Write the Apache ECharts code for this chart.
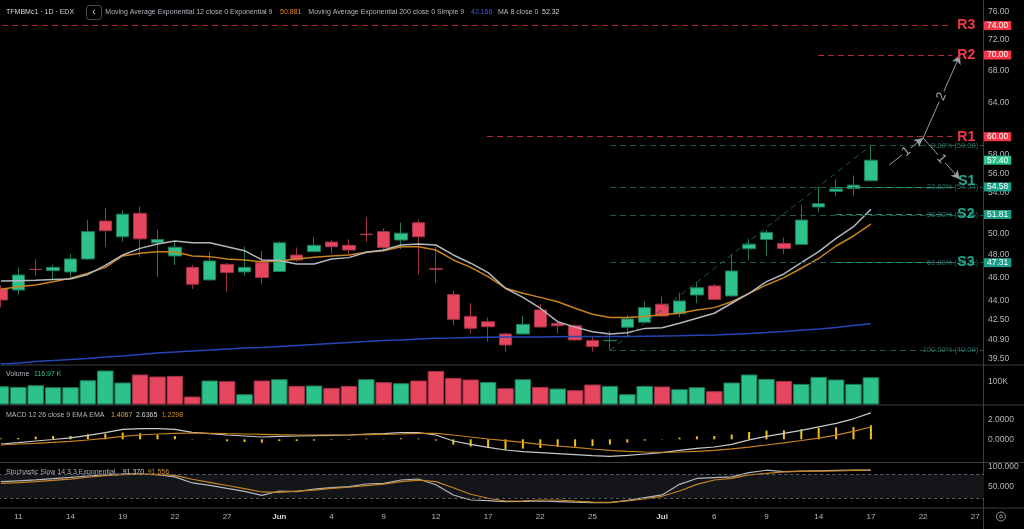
<!DOCTYPE html>
<html>
<head>
<meta charset="utf-8">
<title>TFMBMc1 · 1D · EDX</title>
<script src="https://cdn.jsdelivr.net/npm/echarts@6/dist/echarts.min.js"></script>
<style>
  html, body { margin: 0; padding: 0; background: #000; }
  #chart { width: 1024px; height: 529px; }
</style>
</head>
<body>
<div id="chart"></div>
<script>
// trading days, one per bar (last 6 are empty future slots)
const dates = [
  '2020-05-08',
  '2020-05-11', '2020-05-12', '2020-05-13', '2020-05-14', '2020-05-15',
  '2020-05-18', '2020-05-19', '2020-05-20', '2020-05-21', '2020-05-22',
  '2020-05-25', '2020-05-26', '2020-05-27', '2020-05-28', '2020-05-29',
  '2020-06-01', '2020-06-02', '2020-06-03', '2020-06-04', '2020-06-05',
  '2020-06-08', '2020-06-09', '2020-06-10', '2020-06-11', '2020-06-12',
  '2020-06-15', '2020-06-16', '2020-06-17', '2020-06-18', '2020-06-19',
  '2020-06-22', '2020-06-23', '2020-06-24', '2020-06-25', '2020-06-26',
  '2020-06-29', '2020-06-30', '2020-07-01', '2020-07-02', '2020-07-03',
  '2020-07-06', '2020-07-07', '2020-07-08', '2020-07-09', '2020-07-10',
  '2020-07-13', '2020-07-14', '2020-07-15', '2020-07-16', '2020-07-17',
  '2020-07-20', '2020-07-21', '2020-07-22', '2020-07-23', '2020-07-24',
  '2020-07-27'
];
const tickDates = [
  '2020-05-11', '2020-05-14', '2020-05-19', '2020-05-22', '2020-05-27', '2020-06-01',
  '2020-06-04', '2020-06-09', '2020-06-12', '2020-06-17', '2020-06-22', '2020-06-25',
  '2020-07-01', '2020-07-06', '2020-07-09', '2020-07-14', '2020-07-17', '2020-07-22', '2020-07-27'
];
const monthNames = ['Jan', 'Feb', 'Mar', 'Apr', 'May', 'Jun', 'Jul', 'Aug', 'Sep', 'Oct', 'Nov', 'Dec'];

const opens = [45.03, 44.93, 46.72, 46.60, 46.49, 47.64, 51.17, 49.68, 51.92, 49.11,
  47.91, 46.89, 45.79, 47.16, 46.49, 47.31, 46.52, 47.99, 48.30, 49.18,
  48.88, 49.93, 50.16, 49.37, 51.01, 46.78, 44.54, 42.75, 42.32, 41.35,
  41.35, 43.27, 42.19, 42.00, 40.84, 40.83, 41.88, 42.28, 43.74, 42.97,
  44.51, 45.27, 44.43, 48.57, 49.43, 49.06, 48.97, 52.55, 54.12, 54.40, 55.22];
const closes = [44.09, 46.22, 46.70, 46.89, 47.64, 50.16, 50.25, 51.84, 49.48, 49.42,
  48.71, 45.42, 47.46, 46.43, 46.89, 46.00, 49.11, 47.55, 48.88, 48.75,
  48.45, 49.87, 48.69, 50.01, 49.68, 46.72, 42.51, 41.80, 41.92, 40.50,
  42.11, 41.90, 42.00, 40.89, 40.38, 40.86, 42.54, 43.46, 42.78, 44.01,
  45.12, 44.14, 46.57, 48.99, 50.09, 48.60, 51.27, 52.88, 54.36, 54.76, 57.40];
const lows = [43.48, 44.51, 46.14, 45.79, 46.03, 47.55, 48.75, 49.21, 47.84, 46.07,
  47.10, 45.02, 45.75, 44.78, 46.14, 45.42, 46.49, 47.40, 48.27, 48.09,
  48.09, 49.21, 48.45, 48.54, 46.28, 45.51, 42.06, 41.40, 40.76, 39.99,
  41.27, 41.86, 41.40, 40.81, 39.99, 40.09, 41.14, 42.26, 42.72, 42.67,
  43.82, 44.09, 44.38, 47.55, 47.91, 48.09, 48.96, 52.02, 53.65, 53.68, 55.13];
const highs = [45.31, 46.89, 47.61, 47.14, 48.09, 51.27, 52.48, 52.18, 52.58, 50.32,
  49.21, 47.10, 48.30, 47.28, 48.75, 48.36, 49.26, 48.68, 49.67, 49.37,
  49.43, 51.53, 50.48, 51.01, 51.34, 48.75, 44.85, 43.82, 42.64, 41.45,
  42.78, 43.74, 42.32, 42.13, 41.14, 41.59, 42.86, 43.95, 44.38, 44.71,
  45.62, 45.44, 48.09, 49.51, 50.32, 49.60, 52.75, 54.60, 55.37, 55.77, 59.00];
// volume in thousands
const volumes = [78.5, 75.5, 82.8, 74.2, 74.2, 104.3, 145.9, 94.4, 128.8, 120.2,
  122.7, 34.3, 103, 100, 44.2, 103, 108.6, 79.8, 81.5, 71.2,
  79.8, 108.6, 95.7, 91.4, 103, 144.2, 114.2, 107.3, 97, 70,
  108.6, 75.5, 68.7, 61.4, 85.8, 79.8, 44.2, 79.8, 77.3, 65.7,
  74.2, 57.1, 94.4, 128.8, 109.9, 101.3, 88.4, 118.5, 107.3, 88.4, 116.97];

const ma8 = [45.70, 45.73, 45.76, 45.82, 45.88, 46.27, 47.06, 48.00, 48.60, 49.00,
  49.28, 49.12, 49.12, 48.75, 48.39, 47.55, 47.51, 47.19, 47.19, 47.64,
  47.76, 48.24, 48.45, 48.91, 49.00, 48.91, 48.00, 47.26, 46.43, 45.08,
  44.31, 43.41, 42.32, 41.89, 41.53, 41.35, 41.45, 41.79, 41.84, 42.20,
  42.60, 43.00, 43.82, 44.65, 45.64, 46.31, 47.31, 48.30, 49.53, 50.63, 52.32];
const ema12 = [44.99, 45.21, 45.36, 45.64, 45.94, 46.37, 46.89, 47.91, 48.15, 48.30,
  48.30, 47.91, 47.85, 47.64, 47.55, 47.40, 47.46, 47.64, 47.79, 47.91,
  48.00, 48.24, 48.39, 48.75, 48.75, 48.45, 47.55, 46.89, 46.08, 45.08,
  44.65, 44.31, 43.95, 43.41, 42.92, 42.65, 42.65, 42.73, 42.87, 43.00,
  43.27, 43.46, 43.95, 44.65, 45.36, 45.99, 46.81, 47.70, 48.82, 49.75, 50.881];
const ema200 = [39.07, 39.15, 39.26, 39.33, 39.41, 39.48, 39.60, 39.67, 39.78, 39.90,
  39.97, 40.05, 40.12, 40.20, 40.27, 40.31, 40.39, 40.47, 40.54, 40.62,
  40.70, 40.77, 40.85, 40.89, 40.97, 41.01, 41.04, 41.08, 41.10, 41.12,
  41.12, 41.12, 41.14, 41.15, 41.15, 41.15, 41.16, 41.18, 41.20, 41.22,
  41.25, 41.28, 41.33, 41.39, 41.47, 41.54, 41.64, 41.74, 41.86, 42.02, 42.166];

const macdLine = [-0.47, -0.34, -0.17, -0.02, 0.14, 0.40, 0.66, 1.00, 1.06, 1.06,
  1.00, 0.70, 0.56, 0.43, 0.33, 0.23, 0.30, 0.33, 0.36, 0.40,
  0.43, 0.53, 0.56, 0.66, 0.66, 0.43, -0.17, -0.50, -0.80, -1.07,
  -1.24, -1.34, -1.44, -1.54, -1.64, -1.70, -1.60, -1.47, -1.34, -1.10,
  -0.90, -0.77, -0.50, -0.05, 0.30, 0.60, 0.90, 1.25, 1.60, 2.05, 2.6365];
const macdSignal = [-0.57, -0.47, -0.40, -0.30, -0.20, -0.07, 0.10, 0.30, 0.43, 0.53,
  0.60, 0.63, 0.60, 0.56, 0.53, 0.50, 0.46, 0.43, 0.43, 0.43,
  0.43, 0.46, 0.50, 0.53, 0.60, 0.60, 0.43, 0.23, 0.03, -0.14,
  -0.30, -0.50, -0.67, -0.80, -0.97, -1.10, -1.20, -1.27, -1.30, -1.27,
  -1.20, -1.10, -0.95, -0.78, -0.57, -0.35, -0.12, 0.12, 0.42, 0.80, 1.2298];
const macdHist = [0.08, 0.13, 0.27, 0.33, 0.33, 0.50, 0.57, 0.67, 0.60, 0.47,
  0.33, 0.04, -0.03, -0.20, -0.27, -0.33, -0.17, -0.17, -0.13, -0.05,
  -0.05, 0.07, 0.04, 0.10, 0.07, -0.13, -0.53, -0.73, -0.87, -1.05,
  -0.93, -0.87, -0.77, -0.73, -0.67, -0.53, -0.33, -0.13, -0.03, 0.17,
  0.30, 0.33, 0.47, 0.73, 0.87, 0.90, 1.00, 1.13, 1.20, 1.23, 1.4067];

const stochK = [61.7, 64, 66.3, 69.5, 72.7, 76.2, 79.3, 81, 81, 79.5,
  74, 58.5, 52.5, 44.5, 37, 27, 38, 36.2, 43, 46.4,
  49, 55.9, 57.6, 66, 68.6, 54, 27.8, 15, 13.3, 10.7,
  11.5, 12.5, 11, 9.5, 8.5, 8.2, 14, 21, 28, 55,
  70, 72, 74, 85, 91, 87.5, 88.5, 89.5, 90.5, 91, 91.370];
const stochD = [57.6, 59.5, 62, 65, 68.5, 73, 77, 80, 81, 80,
  78, 68, 60, 52, 44, 35.5, 34.7, 37.5, 40, 44.5,
  47.5, 51.5, 55.5, 61.7, 65.5, 62, 46.4, 29.6, 19.4, 12.5,
  13, 15, 15, 12, 9.5, 8.9, 12.5, 18, 24.5, 38,
  55, 66, 70, 79, 83, 87, 88, 88.5, 89, 90.5, 91.556];

const priceTicks = [76, 72, 68, 64, 58, 56, 54, 50, 48, 46, 44, 42.5, 40.9, 39.5];
const levelNames = ['R3', 'R2', 'R1', 'S1', 'S2', 'S3'];
const levelValues = [74, 70, 60, 54.58, 51.81, 47.31];
const levelStart = [-0.5, 46.96, 27.94, 48, 48, 48];   // bar index where each level line starts
const levelEnd = 54.68;
const fibRatios = [0, 0.236, 0.382, 0.618, 1];
const fibLow = { idx: 35, price: 40.09 };
const fibHigh = { idx: 50, price: 59.00 };
const arrows = [
  { from: [51.06, 56.88], to: [53.0, 59.85], text: '1' },
  { from: [53.0, 59.85], to: [55.12, 70.0], text: '2' },
  { from: [53.0, 59.85], to: [55.12, 55.36], text: '1' }
];

const L = Math.log;
const UP = '#2ec28b', DOWN = '#e6475f';
const UP_EDGE = '#1d7a58', DOWN_EDGE = '#a03246';
const GRAY_TXT = '#b2b5be';
const FONT = '"Liberation Sans", Arial, sans-serif';
const LEFT = -7.8, RIGHT = 40;
const last = closes.length - 1;

const candles = opens.map((o, i) => [L(o), L(closes[i]), L(lows[i]), L(highs[i])]);
const volData = volumes.map((v, i) => {
  const up = i === 0 || closes[i] >= closes[i - 1];
  return { value: v, itemStyle: { color: up ? UP : DOWN, borderColor: up ? UP_EDGE : DOWN_EDGE } };
});

// annotation drawings (fib, support / resistance, arrows)
const marks = [];
fibRatios.forEach(r => {
  const lvl = fibHigh.price - r * (fibHigh.price - fibLow.price);
  marks.push([
    { coord: [fibLow.idx, L(lvl)], symbol: 'none',
      lineStyle: { color: '#1c5a4d', type: [6, 4], width: 1 },
      label: { show: true, position: 'insideEnd', distance: 5, color: '#2b6d60', fontSize: 7.5,
               formatter: (r * 100).toFixed(2) + '% (' + lvl.toFixed(2) + ')' } },
    { coord: [56.45, L(lvl)], symbol: 'none' }
  ]);
});
levelNames.forEach((name, i) => {
  const isR = name[0] === 'R';
  // S1 tag sits a little above its line
  const label = name === 'S1'
    ? { position: 'insideEndTop', distance: [-23, -1] }
    : { position: 'end', distance: 5 };
  marks.push([
    { coord: [levelStart[i], L(levelValues[i])], symbol: 'none',
      lineStyle: { color: isR ? '#b3293b' : '#1f9a83', type: [6, 4], width: 1 },
      label: Object.assign({ show: true, formatter: name,
               color: isR ? '#f23645' : '#22a88f', fontSize: 14, fontWeight: 'bold' }, label) },
    { coord: [levelEnd, L(levelValues[i])], symbol: 'none' }
  ]);
});
arrows.forEach(a => {
  marks.push([
    { coord: [a.from[0], L(a.from[1])], symbol: 'none',
      lineStyle: { color: '#9a9da6', width: 1, type: 'solid' },
      label: { show: true, position: 'insideMiddle', formatter: a.text, color: '#a5a8b0',
               fontSize: 13, backgroundColor: '#000', padding: [0, 2] } },
    { coord: [a.to[0], L(a.to[1])], symbol: 'arrow', symbolSize: [7, 9] }
  ]);
});

// price tags on the right scale
const tagValues = levelValues.concat([closes[last]]);
const tagKinds = levelNames.map(n => n[0] === 'R' ? 'r' : 's').concat(['u']);
const tagStyle = bg => ({ backgroundColor: bg, color: '#fff', fontSize: 8.5, lineHeight: 10, padding: [0, 3, 0, 3] });

function makeGrid(top, height) {
  return { left: LEFT, right: RIGHT, top: top, height: height, containLabel: false, outerBoundsMode: 'none' };
}
function catAxis(gridIndex, showLabels) {
  return {
    type: 'category', gridIndex: gridIndex, data: dates,
    axisLine: { show: false, onZero: false }, axisTick: { show: false }, splitLine: { show: false },
    axisLabel: showLabels ? {
      show: true, margin: 5, fontSize: 8, color: GRAY_TXT,
      interval: (idx, v) => tickDates.includes(v),
      formatter: v => {
        const p = v.split('-');
        return p[2] === '01' ? '{m|' + monthNames[+p[1] - 1] + '}' : String(+p[2]);
      },
      rich: { m: { fontWeight: 'bold', fontSize: 8, color: '#d1d4dc' } }
    } : { show: false }
  };
}
function valAxis(gridIndex, min, max, ticks, fmt) {
  return {
    type: 'value', gridIndex: gridIndex, position: 'right', min: min, max: max,
    axisLine: { show: false, onZero: false }, axisTick: { show: false }, splitLine: { show: false },
    axisLabel: { show: true, customValues: ticks, formatter: fmt, margin: 4, fontSize: 8.5, color: GRAY_TXT }
  };
}

function legendText(x, y, text, color) {
  return { type: 'text', x: x, y: y, silent: true,
           style: { text: text, fill: color, font: '7px ' + FONT, verticalAlign: 'middle' } };
}
function sepLine(x1, y1, x2, y2) {
  return { type: 'line', silent: true, shape: { x1: x1, y1: y1, x2: x2, y2: y2 },
           style: { stroke: '#3b3e47', lineWidth: 1 } };
}

const option = {
  animation: false,
  backgroundColor: '#000',
  textStyle: { fontFamily: FONT },
  grid: [makeGrid(0, 365), makeGrid(365, 39.5), makeGrid(405, 57.5), makeGrid(462.5, 45.5)],
  xAxis: [
    catAxis(0, false), catAxis(1, false), catAxis(2, false), catAxis(3, true),
    { type: 'value', gridIndex: 0, position: 'top', min: -0.5, max: 56.5, show: false,
      axisLine: { onZero: false } }
  ],
  yAxis: [
    valAxis(0, L(39.0), L(77.66), priceTicks.map(L), v => Math.exp(v).toFixed(2)),
    {
      type: 'value', gridIndex: 0, position: 'right', min: L(39.0), max: L(77.66),
      axisLine: { show: false, onZero: false }, axisTick: { show: false }, splitLine: { show: false },
      axisLabel: {
        show: true, margin: 0, customValues: tagValues.map(L),
        formatter: v => {
          const i = tagValues.findIndex(t => Math.abs(L(t) - v) < 1e-6);
          return '{' + tagKinds[i] + '|' + tagValues[i].toFixed(2) + '}';
        },
        rich: { r: tagStyle('#f23645'), s: tagStyle('#1e9e88'), u: tagStyle(UP) }
      }
    },
    valAxis(1, 0, 169.5, [100], () => '100K'),
    valAxis(2, -2.32, 3.43, [2, 0], v => v.toFixed(4)),
    valAxis(3, -5.4, 110.7, [100, 50], v => v.toFixed(3))
  ],
  series: [
    {
      type: 'candlestick', xAxisIndex: 0, yAxisIndex: 0, barWidth: 13, data: candles,
      itemStyle: { color: UP, color0: DOWN, borderColor: UP_EDGE, borderColor0: DOWN_EDGE, borderWidth: 1 }
    },
    { type: 'line', xAxisIndex: 0, yAxisIndex: 0, data: ema200.map(L), symbol: 'none',
      lineStyle: { color: '#2445b5', width: 1.5 } },
    { type: 'line', xAxisIndex: 0, yAxisIndex: 0, data: ema12.map(L), symbol: 'none',
      lineStyle: { color: '#c8821f', width: 1.5 } },
    { type: 'line', xAxisIndex: 0, yAxisIndex: 0, data: ma8.map(L), symbol: 'none',
      lineStyle: { color: '#b4b6bd', width: 1.5 } },
    {
      type: 'line', xAxisIndex: 4, yAxisIndex: 0, symbol: 'none', silent: true,
      data: [[fibLow.idx, L(fibLow.price)], [fibHigh.idx, L(fibHigh.price)]],
      lineStyle: { color: '#1c5a4d', type: [6, 4], width: 1 },
      markLine: { silent: true, animation: false, symbol: ['none', 'none'], data: marks }
    },
    { type: 'bar', xAxisIndex: 1, yAxisIndex: 2, barWidth: '95%', data: volData,
      itemStyle: { borderWidth: 1 } },
    { type: 'bar', xAxisIndex: 2, yAxisIndex: 3, barWidth: 2, data: macdHist,
      itemStyle: { color: '#f0c21c' } },
    { type: 'line', xAxisIndex: 2, yAxisIndex: 3, data: macdLine, symbol: 'none',
      lineStyle: { color: '#c9c9cc', width: 1.2 } },
    { type: 'line', xAxisIndex: 2, yAxisIndex: 3, data: macdSignal, symbol: 'none',
      lineStyle: { color: '#c8821f', width: 1.2 } },
    {
      type: 'line', xAxisIndex: 3, yAxisIndex: 4, data: stochK, symbol: 'none',
      lineStyle: { color: '#b4b6bd', width: 1.2 },
      markArea: { silent: true, itemStyle: { color: '#141518' }, data: [[{ yAxis: 20 }, { yAxis: 80 }]] },
      markLine: { silent: true, symbol: ['none', 'none'], label: { show: false },
                  lineStyle: { color: '#5d606b', type: [3, 3], width: 1 },
                  data: [{ yAxis: 80 }, { yAxis: 20 }] }
    },
    { type: 'line', xAxisIndex: 3, yAxisIndex: 4, data: stochD, symbol: 'none',
      lineStyle: { color: '#c8821f', width: 1.2 } }
  ],
  graphic: [
    sepLine(0, 365, 1024, 365), sepLine(0, 405, 1024, 405),
    sepLine(0, 462.5, 1024, 462.5), sepLine(0, 508, 1024, 508),
    sepLine(983.5, 0, 983.5, 529),
    legendText(6, 12.5, 'TFMBMc1 · 1D · EDX', '#d1d4dc'),
    { type: 'rect', silent: true, shape: { x: 86.5, y: 5.5, width: 15, height: 14, r: 3 },
      style: { fill: 'none', stroke: '#4a4d57', lineWidth: 1 } },
    { type: 'text', x: 94, y: 12.5, silent: true,
      style: { text: '‹', fill: '#d1d4dc', font: '10px ' + FONT, align: 'center', verticalAlign: 'middle' } },
    legendText(105.3, 12.5, 'Moving Average Exponential 12 close 0 Exponential 9', GRAY_TXT),
    legendText(280, 12.5, ema12[last].toFixed(3), '#e08a1e'),
    legendText(308.3, 12.5, 'Moving Average Exponential 200 close 0 Simple 9', GRAY_TXT),
    legendText(471, 12.5, ema200[last].toFixed(3), '#3d5af1'),
    legendText(498, 12.5, 'MA 8 close 0', GRAY_TXT),
    legendText(542, 12.5, ma8[last].toFixed(2), '#d1d4dc'),
    legendText(6, 374, 'Volume', GRAY_TXT),
    legendText(34, 374, volumes[last].toFixed(2) + ' K', UP),
    legendText(6, 415, 'MACD 12 26 close 9 EMA EMA', GRAY_TXT),
    legendText(111, 415, macdHist[last].toFixed(4), '#e2a93b'),
    legendText(136, 415, macdLine[last].toFixed(4), '#d1d4dc'),
    legendText(161.7, 415, macdSignal[last].toFixed(4), '#d38b2b'),
    legendText(6, 472.3, 'Stochastic Slow 14 3 3 Exponential', GRAY_TXT),
    legendText(122.7, 472.3, stochK[last].toFixed(3), '#d1d4dc'),
    legendText(147.7, 472.3, stochD[last].toFixed(3), '#d38b2b'),
    { type: 'circle', silent: true, shape: { cx: 1001, cy: 516.5, r: 4.5 },
      style: { fill: 'none', stroke: '#9598a1', lineWidth: 1 } },
    { type: 'circle', silent: true, shape: { cx: 1001, cy: 516.5, r: 1.5 },
      style: { fill: 'none', stroke: '#9598a1', lineWidth: 1 } }
  ]
};

const chart = echarts.init(document.getElementById('chart'));
chart.setOption(option);
</script>
</body>
</html>
